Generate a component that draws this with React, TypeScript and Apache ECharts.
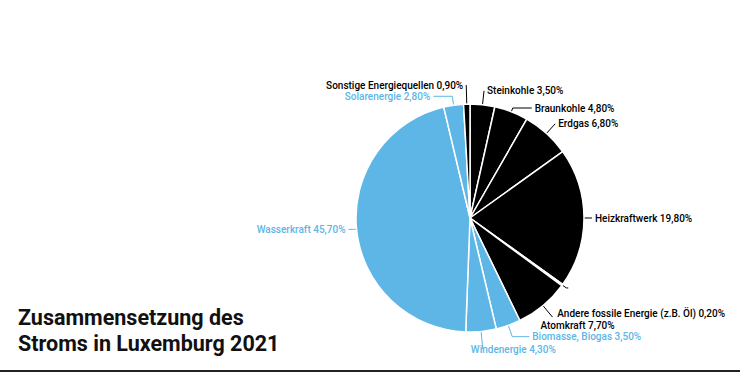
import React, { useEffect, useRef } from "react";
import * as echarts from "echarts";

const categories = [
  "Steinkohle",
  "Braunkohle",
  "Erdgas",
  "Heizkraftwerk",
  "Andere fossile Energie (z.B. Öl)",
  "Atomkraft",
  "Biomasse, Biogas",
  "Windenergie",
  "Wasserkraft",
  "Solarenergie",
  "Sonstige Energiequellen",
];
const values = [3.5, 4.8, 6.8, 19.8, 0.2, 7.7, 3.5, 4.3, 45.7, 2.8, 0.9];
const renewable = [false, false, false, false, false, false, true, true, true, true, false];

const BLACK = "#000000";
const BLUE = "#5db6e6";

// label line styling per slice: [first segment, second segment]
const LINE_LEN: [number, number][] = [
  [14, 0], [4, 19], [13, 0], [4, 4], [5, 2], [15, 0], [12, 17], [18, 0], [3, 5], [9, 19], [19, 0],
];
// small manual nudges of crowded labels
const NUDGE: Record<number, [number, number]> = {
  4: [-14, 26],
  5: [-15, 8],
  7: [-15, 0],
};

export default function App() {
  const ref = useRef<HTMLDivElement>(null);
  useEffect(() => {
    document.body.style.margin = "0";
    const chart = echarts.init(ref.current!, null, { renderer: "svg" });
    const data = categories.map((name, i) => {
      const c = renewable[i] ? BLUE : BLACK;
      return {
        name,
        value: values[i],
        itemStyle: { color: c },
        label: { color: c },
        labelLine: {
          length: LINE_LEN[i][0],
          length2: LINE_LEN[i][1],
          lineStyle: { color: c },
        },
      };
    });
    chart.setOption({
      animation: false,
      title: {
        text: "Zusammensetzung des\nStroms in Luxemburg 2021",
        left: 13,
        top: 299,
        textStyle: {
          fontFamily: "Roboto",
          fontSize: 21.5,
          fontWeight: "bold",
          lineHeight: 26,
          color: "#111",
        },
      },
      graphic: [
        {
          type: "line",
          shape: { x1: 0, y1: 371, x2: 740, y2: 371 },
          style: { stroke: "#222", lineWidth: 2 },
        },
      ],
      series: [
        {
          type: "pie",
          center: [470, 218],
          radius: [0, 114],
          startAngle: 90,
          clockwise: true,
          avoidLabelOverlap: false,
          itemStyle: { borderColor: "#fff", borderWidth: 1.5 },
          label: {
            show: true,
            position: "outside",
            overflow: "none",
            distanceToLabelLine: 3,
            fontFamily: "Roboto",
            fontSize: 10,
            fontWeight: 500,
            lineHeight: 13,
            formatter: (p: any) =>
              p.name + " " + p.value.toFixed(2).replace(".", ",") + "%",
          },
          labelLine: { show: true, lineStyle: { width: 1 } },
          labelLayout: (p: any) => {
            const n = NUDGE[p.dataIndex];
            return n ? { dx: n[0], dy: n[1] } : {};
          },
          data,
        },
      ],
    });
    return () => chart.dispose();
  }, []);
  return <div ref={ref} style={{ width: 740, height: 380 }} />;
}
